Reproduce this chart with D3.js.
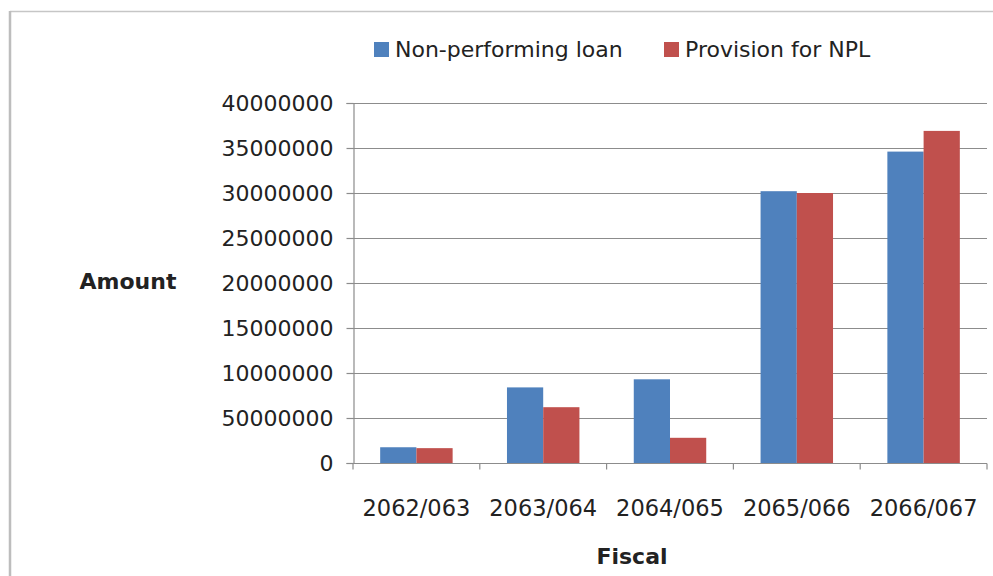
<!DOCTYPE html>
<html>
<head>
<meta charset="utf-8">
<script src="https://cdn.jsdelivr.net/npm/d3@7"></script>
<style>
  html, body { margin: 0; padding: 0; background: #fff; }
  svg { display: block; }
  text { font-family: "DejaVu Sans", sans-serif; fill: #222; }
</style>
</head>
<body>
<svg id="chart" width="993" height="576"></svg>
<script>
const categories = ["2062/063", "2063/064", "2064/065", "2065/066", "2066/067"];
const seriesNames = ["Non-performing loan", "Provision for NPL"];
const nplValues = [1750000, 8400000, 9300000, 30200000, 34600000];
const provisionValues = [1650000, 6200000, 2800000, 30000000, 36900000];
const tickValues = [0, 5000000, 10000000, 15000000, 20000000, 25000000, 30000000, 35000000, 40000000];
const tickLabels = ["0", "50000000", "10000000", "15000000", "20000000", "25000000", "30000000", "35000000", "40000000"];
const colors = ["#4F81BD", "#C0504D"];
const xTitle = "Fiscal";
const yTitle = "Amount";

const svg = d3.select("#chart");
const W = 993, H = 576;

// chart border
svg.append("line").attr("x1", 10).attr("x2", W).attr("y1", 11.5).attr("y2", 11.5)
  .attr("stroke", "#c6c6c6").attr("stroke-width", 1.5);
svg.append("line").attr("x1", 10).attr("x2", 10).attr("y1", 11).attr("y2", H)
  .attr("stroke", "#bdbdbd").attr("stroke-width", 2.5);

const pL = 353, pR = 987, pT = 103, pB = 463;

const slot = d3.scaleBand().domain(categories).range([pL, pR]);
const y = d3.scaleLinear().domain([0, 40000000]).range([pB, pT]);

// gridlines
svg.append("g").selectAll("line").data(tickValues.slice(1)).join("line")
  .attr("x1", pL).attr("x2", pR)
  .attr("y1", d => Math.round(y(d)) + 0.5).attr("y2", d => Math.round(y(d)) + 0.5)
  .attr("stroke", "#8c8c8c").attr("stroke-width", 1.2);

// bars
const data = categories.map((c, i) => ({ c, v: [nplValues[i], provisionValues[i]] }));
const g = svg.append("g");
const sub = d3.scaleBand().domain([0, 1]).range([0, slot.bandwidth() * 4 / 7]);
data.forEach(d => {
  const x0 = slot(d.c) + slot.bandwidth() * 1.5 / 7;
  d.v.forEach((v, k) => {
    g.append("rect")
      .attr("x", x0 + sub(k)).attr("width", sub.bandwidth())
      .attr("y", y(v)).attr("height", y(0) - y(v))
      .attr("fill", colors[k]);
  });
});

// y axis
const yAxis = d3.axisLeft(y).tickValues(tickValues)
  .tickFormat((d, i) => tickLabels[i]).tickSize(7).tickPadding(13);
const ya = svg.append("g").attr("transform", `translate(${pL + 0.5},0)`).call(yAxis);
ya.select(".domain").attr("stroke", "#8c8c8c").attr("stroke-width", 1.2);
ya.selectAll(".tick line").attr("stroke", "#8c8c8c").attr("stroke-width", 1.2);
ya.selectAll(".tick text").attr("font-size", 22).attr("fill", "#222")
  .attr("font-family", "DejaVu Sans, sans-serif");

// x axis
const xa = svg.append("g").attr("transform", `translate(0,${pB + 0.5})`);
xa.append("line").attr("x1", pL).attr("x2", pR).attr("stroke", "#8c8c8c").attr("stroke-width", 1.2);
const bounds = categories.map(c => slot(c)).concat([pR]);
xa.selectAll(".xt").data(bounds).join("line").attr("class", "xt")
  .attr("x1", d => d).attr("x2", d => d).attr("y1", 0).attr("y2", 6)
  .attr("stroke", "#8c8c8c").attr("stroke-width", 1.2);
xa.selectAll(".xl").data(categories).join("text").attr("class", "xl")
  .attr("x", d => slot(d) + slot.bandwidth() / 2).attr("y", 52)
  .attr("text-anchor", "middle").attr("font-size", 22.5).text(d => d);

// axis titles
svg.append("text").attr("x", 128).attr("y", 289).attr("text-anchor", "middle")
  .attr("font-size", 22).attr("font-weight", "bold").text(yTitle);
svg.append("text").attr("x", 632).attr("y", 564).attr("text-anchor", "middle")
  .attr("font-size", 22).attr("font-weight", "bold").text(xTitle);

// legend
const legendX = [374, 664];
seriesNames.forEach((n, k) => {
  svg.append("rect").attr("x", legendX[k]).attr("y", 42).attr("width", 15).attr("height", 15).attr("fill", colors[k]);
  svg.append("text").attr("x", legendX[k] + 21).attr("y", 57).attr("font-size", 22).text(n);
});
</script>
</body>
</html>
